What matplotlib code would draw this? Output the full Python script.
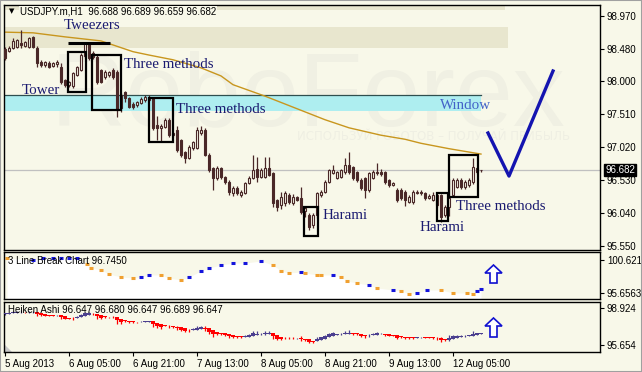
import numpy as np
import matplotlib
matplotlib.use('Agg')
import matplotlib.pyplot as plt
from matplotlib.patches import Rectangle, Polygon
from matplotlib.transforms import blended_transform_factory

plt.rcParams['font.family'] = ['Liberation Sans', 'DejaVu Sans']

# ---------------- data ----------------
opens = [98.48, 98.45, 98.50, 98.51, 98.57, 98.53, 98.51, 98.66, 98.50, 98.29,
         98.24, 98.27, 98.23, 98.25, 98.21, 98.02, 97.95, 97.93, 98.10, 98.17,
         98.37, 98.57, 98.42, 98.36, 98.17, 98.06, 98.09, 98.17, 98.14, 97.80,
         97.84, 97.75, 97.66, 97.65, 97.68, 97.72, 97.73, 97.75, 97.35, 97.31,
         97.32, 97.43, 97.20, 97.28, 97.13, 96.95, 96.86, 97.01, 97.01, 97.23,
         97.28, 96.91, 96.71, 96.57, 96.71, 96.58, 96.51, 96.34, 96.42, 96.31,
         96.34, 96.49, 96.57, 96.70, 96.58, 96.58, 96.71, 96.64, 96.24, 96.16,
         96.19, 96.31, 96.20, 96.28, 96.27, 96.07, 96.02, 95.87, 96.01, 96.31,
         96.36, 96.51, 96.64, 96.57, 96.58, 96.65, 96.76, 96.73, 96.65, 96.54,
         96.56, 96.39, 96.57, 96.64, 96.66, 96.65, 96.53, 96.46, 96.39, 96.39,
         96.36, 96.21, 96.21, 96.34, 96.36, 96.34, 96.27, 96.24, 96.31, 96.31,
         96.02, 96.13, 96.31, 96.43, 96.54, 96.43, 96.46, 96.50, 96.71, 96.688]
highs = [98.51, 98.52, 98.64, 98.63, 98.76, 98.60, 98.66, 98.68, 98.52, 98.31,
         98.30, 98.30, 98.29, 98.32, 98.27, 98.03, 98.00, 98.14, 98.23, 98.42,
         98.59, 98.59, 98.45, 98.40, 98.19, 98.17, 98.16, 98.20, 98.17, 97.82,
         97.86, 97.77, 97.70, 97.71, 97.76, 97.80, 97.80, 97.77, 97.49, 97.36,
         97.45, 97.45, 97.25, 97.34, 97.15, 96.97, 97.05, 97.12, 97.32, 97.33,
         97.30, 96.93, 96.73, 96.74, 96.73, 96.60, 96.53, 96.44, 96.45, 96.38,
         96.51, 96.59, 96.90, 96.88, 96.71, 96.87, 96.87, 96.66, 96.26, 96.35,
         96.37, 96.34, 96.32, 96.30, 96.43, 96.15, 96.05, 96.05, 96.36, 96.38,
         96.53, 96.70, 96.76, 96.67, 96.70, 96.86, 96.95, 96.75, 96.67, 96.56,
         96.58, 96.66, 96.68, 96.79, 96.70, 96.67, 96.55, 96.51, 96.41, 96.41,
         96.38, 96.31, 96.38, 96.39, 96.39, 96.36, 96.33, 96.36, 96.33, 96.33,
         96.16, 96.55, 96.56, 96.56, 96.56, 96.53, 96.56, 96.86, 96.73, 96.689]
lows = [98.32, 98.43, 98.48, 98.49, 98.50, 98.51, 98.50, 98.49, 98.22, 98.21,
        98.22, 98.20, 98.21, 98.22, 97.96, 97.92, 97.91, 97.90, 98.08, 98.15,
        98.35, 98.32, 98.33, 97.96, 97.97, 98.04, 98.07, 98.04, 97.47, 97.55,
        97.70, 97.60, 97.59, 97.62, 97.66, 97.70, 97.71, 97.28, 97.13, 97.10,
        97.30, 97.17, 97.18, 96.95, 96.88, 96.79, 96.84, 96.98, 96.99, 97.20,
        96.89, 96.65, 96.39, 96.54, 96.55, 96.48, 96.31, 96.30, 96.31, 96.29,
        96.32, 96.47, 96.55, 96.50, 96.56, 96.56, 96.59, 96.14, 96.08, 96.10,
        96.15, 96.18, 96.17, 96.22, 96.03, 95.98, 95.79, 95.82, 95.97, 96.29,
        96.34, 96.49, 96.62, 96.55, 96.56, 96.63, 96.62, 96.54, 96.51, 96.39,
        96.27, 96.36, 96.55, 96.61, 96.59, 96.48, 96.43, 96.44, 96.21, 96.24,
        96.15, 96.19, 96.18, 96.32, 96.31, 96.24, 96.25, 96.22, 96.13, 95.91,
        95.98, 96.00, 96.28, 96.41, 96.40, 96.40, 96.43, 96.48, 96.63, 96.659]
closes = [98.35, 98.50, 98.60, 98.61, 98.54, 98.58, 98.64, 98.51, 98.27, 98.24,
          98.28, 98.22, 98.27, 98.29, 97.99, 97.95, 97.99, 98.12, 98.21, 98.39,
          98.57, 98.35, 98.36, 97.99, 97.99, 98.14, 98.14, 98.06, 97.57, 97.60,
          97.75, 97.62, 97.62, 97.69, 97.74, 97.77, 97.76, 97.31, 97.31, 97.34,
          97.43, 97.20, 97.23, 96.98, 96.91, 96.86, 97.03, 97.10, 97.28, 97.28,
          96.91, 96.68, 96.57, 96.71, 96.58, 96.51, 96.36, 96.42, 96.34, 96.36,
          96.49, 96.57, 96.68, 96.58, 96.68, 96.71, 96.61, 96.19, 96.13, 96.28,
          96.34, 96.21, 96.28, 96.24, 96.06, 96.12, 95.84, 96.02, 96.34, 96.36,
          96.51, 96.68, 96.68, 96.65, 96.68, 96.76, 96.65, 96.57, 96.54, 96.42,
          96.39, 96.64, 96.65, 96.66, 96.62, 96.51, 96.46, 96.49, 96.24, 96.27,
          96.24, 96.28, 96.36, 96.36, 96.34, 96.27, 96.30, 96.31, 96.16, 95.99,
          96.13, 96.27, 96.53, 96.54, 96.43, 96.51, 96.54, 96.73, 96.66, 96.682]

ma_idx = [0, 7, 15, 24, 32, 36, 42, 49, 54, 57, 65, 74, 80, 86, 94, 100, 104, 111, 119]
ma_val = [98.73, 98.72, 98.66, 98.60, 98.44, 98.39, 98.32, 98.20, 98.08, 97.95,
          97.78, 97.57, 97.43, 97.31, 97.20, 97.14, 97.08, 97.00, 96.92]

lb_idx = [0.5, 7, 9.5, 12, 14, 16, 18, 20.5, 21.5, 24, 26, 29, 32, 34, 36, 39, 41, 44,
          46, 49, 51, 54, 57, 60, 64, 67, 69, 71, 74, 75, 78, 79, 82, 84, 85.5, 88,
          91, 93, 97, 99, 101, 103, 105.5, 109, 112, 115.5, 117, 118, 119]
lb_val = [100.92, 100.62, 100.92, 100.92, 100.92, 100.92, 100.92, 100.02, 99.42, 99.12,
          98.52, 98.06, 97.91, 98.06, 98.37, 98.37, 97.91, 97.61, 98.06, 98.97, 99.42,
          99.87, 100.17, 100.17, 100.47, 99.87, 98.97, 98.67, 98.82, 98.67, 98.37,
          98.37, 98.37, 98.06, 97.46, 97.16, 96.86, 96.41, 96.11, 95.96, 95.51, 95.66,
          96.11, 96.11, 95.66, 95.66, 95.51, 95.96, 96.26]
lb_dir = ['d', 'u', 'u', 'u', 'u', 'u', 'u', 'd', 'd', 'd', 'd', 'd', 'd', 'u', 'u', 'd',
          'd', 'd', 'u', 'u', 'u', 'u', 'u', 'u', 'u', 'd', 'd', 'd', 'u', 'd', 'd', 'd',
          'u', 'd', 'd', 'd', 'u', 'd', 'u', 'd', 'd', 'u', 'u', 'd', 'd', 'd', 'd', 'u', 'u']

main_ticks = [95.550, 96.040, 96.530, 97.020, 97.510, 98.000, 98.480, 98.970]
lb_ticks = [95.6563, 100.6217]
ha_ticks = [95.654, 98.924]
x_tick_idx = [0, 16, 32, 48, 64, 80, 96, 112]
x_tick_lab = ['5 Aug 2013', '6 Aug 05:00', '6 Aug 21:00', '7 Aug 13:00',
              '8 Aug 05:00', '8 Aug 21:00', '9 Aug 13:00', '12 Aug 05:00']

BG = '#F8F8E9'
CANDLE = '#4A2828'
NAVY = '#1A1A70'

# ---------------- figure ----------------
fig = plt.figure(figsize=(6.42, 3.72), dpi=100, facecolor=BG)
W, H = 642, 372
ax = fig.add_axes([4 / W, 1 - 250 / H, 596 / W, 245 / H], facecolor=BG)
ax2 = fig.add_axes([4 / W, 1 - 299 / H, 596 / W, 47 / H], facecolor=BG)
ax3 = fig.add_axes([4 / W, 1 - 352 / H, 596 / W, 50 / H], facecolor=BG)
XL = (-0.25, 148.75)
for a in (ax, ax2, ax3):
    a.set_xlim(*XL)
    for s in a.spines.values():
        s.set_color('black')
        s.set_linewidth(1.0)
    a.yaxis.tick_right()
    a.tick_params(axis='y', length=3, width=0.8, pad=2, labelsize=7, direction='out')

o = np.array(opens); h = np.array(highs); l = np.array(lows); c = np.array(closes)
x = np.arange(len(c))

# main panel
ax.set_ylim(95.496, 99.133)
ax.set_xticks([])
ax.set_yticks(main_ticks)
ax.set_yticklabels([f'{v:.3f}' for v in main_ticks])

ax.text(0.51, 0.51, 'RoboForex', transform=ax.transAxes, fontsize=75, color='#F0F0E3',
        ha='center', va='baseline', zorder=0.2, family='Liberation Sans')
ax.text(0.72, 0.465, 'ИСПОЛЬЗУЙ РОБОТОВ – ПОЛУЧАЙ ПРИБЫЛЬ', transform=ax.transAxes,
        fontsize=8.5, color='#EFEFE3', ha='center', va='center', zorder=0.2,
        family='DejaVu Sans')

ax.add_patch(Rectangle((XL[0], 99.06), 125.25, 0.3, facecolor='#E8E6CE', edgecolor='none', zorder=0.5))
ax.add_patch(Rectangle((XL[0], 98.495), 126.0, 0.312, facecolor='#E8E6CE', edgecolor='none', zorder=0.5))
ax.add_patch(Rectangle((XL[0], 97.56), 119.25, 0.24, facecolor='#AEEEF0', edgecolor='none', zorder=0.6))
ax.plot([XL[0], 119], [97.80, 97.80], color='#2F4F4F', lw=0.9, zorder=0.7)

ax.axhline(96.682, color='#C0C0C0', lw=0.9, zorder=1)
ax.plot(ma_idx, ma_val, color='#C8961E', lw=1.0, zorder=2)

up = c >= o
ax.vlines(x, l, h, color=CANDLE, lw=0.9, zorder=3)
ax.bar(x, np.maximum(np.abs(c - o), 0.006), bottom=np.minimum(o, c), width=0.72,
       color=np.where(up, BG, CANDLE), edgecolor=CANDLE, linewidth=0.8, zorder=4)

# pattern boxes
boxes = [(15.75, 97.842, 4.5, 0.593), (21.75, 97.574, 7.25, 0.817),
         (36.0, 97.099, 6.0, 0.653), (74.75, 95.703, 3.5, 0.431),
         (108.0, 95.926, 2.75, 0.416), (111.0, 96.283, 7.25, 0.623)]
for bx, by, bw, bh in boxes:
    ax.add_patch(Rectangle((bx, by), bw, bh, fill=False, edgecolor='black', lw=1.6, zorder=6))
ax.plot([15.75, 26.25], [98.576, 98.576], color='black', lw=2.2, zorder=6, solid_capstyle='butt')

ax.plot([120.75, 126.0, 137.0], [97.233, 96.594, 98.153], color='#1414B0', lw=2.4, zorder=6)

tf = dict(family='Liberation Serif', fontsize=10.8, color=NAVY, va='baseline', ha='left', zorder=7)
ax.text(14.75, 98.777, 'Tweezers', **tf)
ax.text(29.75, 98.198, 'Three methods', **tf)
ax.text(4.25, 97.812, 'Tower', **tf)
ax.text(42.7, 97.534, 'Three methods', **tf)
ax.text(79.4, 95.951, 'Harami', **tf)
ax.text(103.6, 95.778, 'Harami', **tf)
ax.text(112.7, 96.089, 'Three methods', **tf)
tfw = dict(tf); tfw['color'] = '#4262C8'
ax.text(108.75, 97.585, 'Window', **tfw)

bt = blended_transform_factory(ax.transAxes, ax.transData)
ax.text(1.0 + 5 / 596, 96.682, '96.682', transform=bt, color='white', fontsize=7,
        va='center', ha='left', zorder=10, clip_on=False,
        bbox=dict(facecolor='black', edgecolor='black', pad=0.8))

fig.text(9 / W, 1 - 11.5 / H, '▼', fontsize=5, family='DejaVu Sans', va='center', ha='left')
fig.text(20 / W, 1 - 12 / H, 'USDJPY.m,H1  96.688 96.689 96.659 96.682', fontsize=7,
         va='center', ha='left', bbox=dict(facecolor=BG, edgecolor='none', pad=0.5))

# 3 line break panel
ax2.set_ylim(94.753, 101.826)
ax2.set_xticks([])
ax2.set_yticks(lb_ticks)
ax2.set_yticklabels([f'{v:.4f}' for v in lb_ticks])
ax2.fill_between(lb_idx, lb_val, 94.753, color='white', lw=0, zorder=1)
colmap = {'u': '#1414DC', 'd': '#F0A030'}
for xi, vi, di in zip(lb_idx, lb_val, lb_dir):
    ax2.plot([xi - 0.6, xi + 0.6], [vi, vi], color=colmap[di], lw=2.2,
             solid_capstyle='butt', zorder=2)
ax2.text(4 / 596, 0.81, '3 Line Break Chart 96.7450', transform=ax2.transAxes,
         fontsize=7, va='center', ha='left', zorder=5)

# Heiken Ashi panel
ha_c = (o + h + l + c) / 4
ha_o = np.empty_like(ha_c)
ha_o[0] = (o[0] + c[0]) / 2
for i in range(1, len(ha_c)):
    ha_o[i] = (ha_o[i - 1] + ha_c[i - 1]) / 2
ha_h = np.maximum.reduce([h, ha_o, ha_c])
ha_l = np.minimum.reduce([l, ha_o, ha_c])
ha_up = ha_c >= ha_o
ha_col = np.where(ha_up, '#4B3F8F', '#FF0000')
ax3.set_ylim(95.035, 99.454)
ax3.set_yticks(ha_ticks)
ax3.set_yticklabels([f'{v:.3f}' for v in ha_ticks])
ax3.vlines(x, ha_l, ha_h, colors=ha_col, lw=0.9, zorder=2)
ax3.bar(x, np.maximum(np.abs(ha_c - ha_o), 0.035), bottom=np.minimum(ha_o, ha_c), width=0.8,
        color=ha_col, linewidth=0, zorder=3)
ax3.text(4 / 596, 0.84, 'Heiken Ashi 96.647 96.680 96.647 96.689 96.647',
         transform=ax3.transAxes, fontsize=7, va='center', ha='left', zorder=5)
ax3.add_patch(Polygon([(0, 0), (8 / 596, 0), (0, 8 / 50)], closed=True,
                      transform=ax3.transAxes, facecolor='#C8C8C8', edgecolor='none'))
ax3.set_xticks(x_tick_idx)
ax3.set_xticklabels(x_tick_lab, ha='left')
ax3.tick_params(axis='x', length=3, width=0.8, pad=2, labelsize=7, direction='out')


def up_arrow(a, xc, yb, yt, hh):
    hw, sw = 8.5 / 596, 3.5 / 596
    pts = [(xc - sw, yb), (xc + sw, yb), (xc + sw, yt - hh), (xc + hw, yt - hh),
           (xc, yt), (xc - hw, yt - hh), (xc - sw, yt - hh)]
    a.add_patch(Polygon(pts, closed=True, transform=a.transAxes, facecolor='white',
                        edgecolor='#1010D0', lw=1.2, zorder=8))


up_arrow(ax2, 0.8213, 0.34, 0.723, 0.17)
up_arrow(ax3, 0.8213, 0.30, 0.68, 0.16)

fig.patches.append(Rectangle((0, 0), 1, 1, transform=fig.transFigure, fill=False,
                             edgecolor='#A0A0A0', lw=1.5))

fig.savefig('out.png', dpi=100, facecolor=BG)
